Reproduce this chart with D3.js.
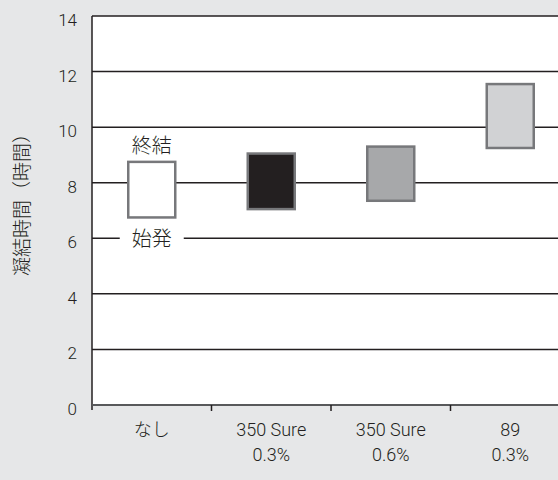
<!DOCTYPE html>
<html>
<head>
<meta charset="utf-8">
<script src="https://cdn.jsdelivr.net/npm/d3@7"></script>
<style>
  body { margin: 0; background: #e6e7e8; }
  svg { display: block; }
  text { font-family: "Noto Sans CJK JP", "Noto Sans", sans-serif; fill: #231f20; font-weight: 300; }
</style>
</head>
<body>
<script>
// data
var categories = ["なし", "350 Sure\n0.3%", "350 Sure\n0.6%", "89\n0.3%"]
var startVals = [6.75, 7.05, 7.35, 9.25]   // 始発
var endVals   = [8.75, 9.05, 9.3, 11.55]   // 終結
var fills = ["#ffffff", "#231f20", "#a7a8aa", "#d1d2d4"]
var yTicks = [0, 2, 4, 6, 8, 10, 12, 14]

var W = 558, H = 480
var mLeft = 92, mTop = 16, mBottom = 405

var svg = d3.select("body")
  .append("svg")
  .attr("width", W)
  .attr("height", H)

var x = d3.scaleBand()
  .domain(categories)
  .range([mLeft, mLeft + 119.5 * 4])

var y = d3.scaleLinear()
  .domain([0, 14])
  .range([mBottom, mTop])

// plot area
svg.append("rect")
  .attr("x", mLeft).attr("y", mTop)
  .attr("width", W - mLeft).attr("height", mBottom - mTop)
  .attr("fill", "#fff")

// gridlines
svg.selectAll("grid")
  .data(yTicks.filter(function(d){ return d > 0 }))
  .enter()
  .append("line")
    .attr("x1", mLeft).attr("x2", W)
    .attr("y1", function(d){ return y(d) })
    .attr("y2", function(d){ return y(d) })
    .attr("stroke", "#231f20")
    .attr("stroke-width", 1.5)

// y tick labels
svg.selectAll("ylab")
  .data(yTicks)
  .enter()
  .append("text")
    .attr("x", 77)
    .attr("y", function(d){ return y(d) + 10 })
    .attr("text-anchor", "end")
    .style("font-family", "Roboto, sans-serif")
    .style("font-size", "17px")
    .text(function(d){ return d })

// axes lines
svg.append("line")
  .attr("x1", mLeft).attr("x2", mLeft)
  .attr("y1", mTop).attr("y2", mBottom + 5)
  .attr("stroke", "#231f20").attr("stroke-width", 1.5)
svg.append("line")
  .attr("x1", mLeft).attr("x2", W)
  .attr("y1", mBottom).attr("y2", mBottom)
  .attr("stroke", "#58595b").attr("stroke-width", 2)

// category ticks
svg.selectAll("xtick")
  .data(categories.slice(1))
  .enter()
  .append("line")
    .attr("x1", function(d){ return x(d) }).attr("x2", function(d){ return x(d) })
    .attr("y1", mBottom).attr("y2", mBottom + 6)
    .attr("stroke", "#231f20").attr("stroke-width", 1.5)

// category labels
var xl = svg.selectAll("xlab")
  .data(categories)
  .enter()
  .append("text")
    .attr("text-anchor", "middle")
    .style("font-family", "Roboto, 'Noto Sans CJK JP', sans-serif")
    .style("font-size", "18px")
xl.each(function(d){
  var lines = d.split("\n")
  var t = d3.select(this)
  lines.forEach(function(s, i){
    t.append("tspan")
      .attr("x", x(d) + x.bandwidth() / 2)
      .attr("y", 436 + i * 25)
      .text(s)
  })
})

// floating bars
var bw = 47
svg.selectAll("bars")
  .data(categories)
  .enter()
  .append("rect")
    .attr("x", function(d){ return x(d) + x.bandwidth() / 2 - bw / 2 })
    .attr("y", function(d, i){ return y(endVals[i]) })
    .attr("width", bw)
    .attr("height", function(d, i){ return y(startVals[i]) - y(endVals[i]) })
    .attr("fill", function(d, i){ return fills[i] })
    .attr("stroke", "#77787b")
    .attr("stroke-width", 2.5)

// annotations on first bar
var cx0 = x(categories[0]) + x.bandwidth() / 2
svg.append("text")
  .attr("x", cx0).attr("y", y(endVals[0]) - 9)
  .attr("text-anchor", "middle")
  .style("font-size", "20px")
  .text("終結")
svg.append("rect")
  .attr("x", cx0 - 32).attr("y", y(6) - 4)
  .attr("width", 64).attr("height", 8)
  .attr("fill", "#fff")
svg.append("text")
  .attr("x", cx0).attr("y", y(6) + 8)
  .attr("text-anchor", "middle")
  .style("font-size", "20px")
  .text("始発")

// y axis title
svg.append("text")
  .attr("transform", "translate(29," + 200 + ")rotate(-90)")
  .attr("text-anchor", "middle")
  .style("font-size", "19px")
  .text("凝結時間（時間）")
</script>
</body>
</html>
